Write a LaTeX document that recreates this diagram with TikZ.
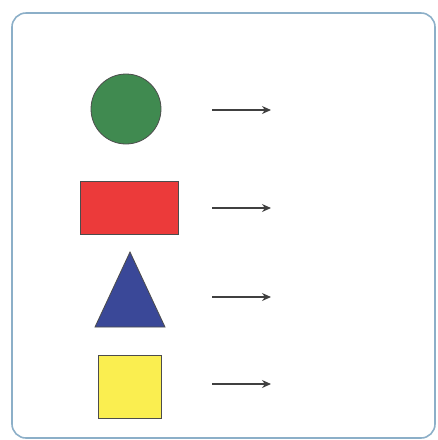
\documentclass[tikz,border=0pt]{standalone}
\usetikzlibrary{arrows.meta}

\definecolor{framecol}{RGB}{140,175,200}
\definecolor{shapegreen}{RGB}{64,138,80}
\definecolor{shapered}{RGB}{236,58,58}
\definecolor{shapeblue}{RGB}{58,72,152}
\definecolor{shapeyellow}{RGB}{250,238,80}

\tikzset{
    figure/.style={draw=black!70,line width=0.8pt,inner sep=0pt},
    pointer/.style={-{Stealth[length=9pt,width=8pt]},black!75,line width=1.2pt}
}

\begin{document}
\begin{tikzpicture}[x=1pt,y=-1pt]
    \useasboundingbox (0,0) rectangle (438,440);
    \draw[framecol,line width=1.6pt,rounded corners=14pt] (12,13) rectangle (435,438);

    \node[figure,circle,fill=shapegreen,minimum size=70pt] (circ) at (126,109) {};
    \node[figure,rectangle,fill=shapered,minimum width=98pt,minimum height=53pt] (rect) at (129,207.5) {};
    \filldraw[figure,fill=shapeblue] (130,252) -- (165,327) -- (95,327) -- cycle;
    \coordinate (tri) at (130,297);
    \node[figure,rectangle,fill=shapeyellow,minimum width=63pt,minimum height=63pt] (sq) at (130,386.5) {};

    \foreach \n/\y in {1/110,2/208,3/297,4/384}{
        \coordinate (s\n) at (212,\y);
        \coordinate (e\n) at (271,\y);
        \draw[pointer] (s\n) -- (e\n);
    }
\end{tikzpicture}
\end{document}
